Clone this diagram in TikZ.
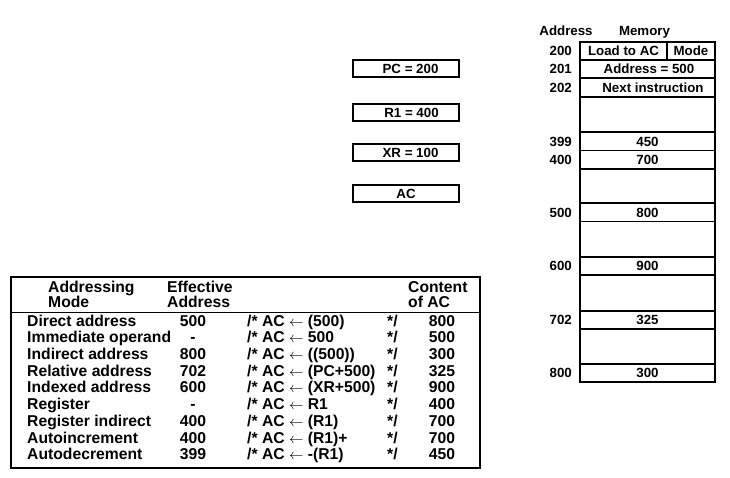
\documentclass[tikz,border=0pt]{standalone}
\usepackage{fontspec}
\setmainfont{Liberation Sans}
\begin{document}
\begin{tikzpicture}[x=1pt,y=-1pt,
  tbl/.style={font=\fontsize{15.7}{16}\selectfont\bfseries, inner sep=0pt, text height=11.3pt, text depth=0pt},
  mem/.style={font=\fontsize{13.3}{14}\selectfont\bfseries, inner sep=0pt, text height=9.6pt, text depth=0pt},
  reg/.style={mem, draw, line width=1.7pt, minimum width=106pt, minimum height=17pt},
  cell/.style={mem, draw, line width=1.8pt, minimum width=135pt},
  memframe/.style={draw, line width=2.4pt, inner sep=0pt},
  tabframe/.style={draw, line width=2pt, inner sep=0pt}]
\useasboundingbox (0,0) rectangle (730,478);

% registers
\node[reg] (pc) at (406,68.5) {\hspace{9pt}PC = 200};
\node[reg] (r1) at (406,112.5) {\hspace{11pt}R1 = 400};
\node[reg] (xr) at (406,152.5) {\hspace{9pt}XR = 100};
\node[reg] (ac) at (406,193.5) {AC};

% memory
\node[mem] (haddr) at (566,31) {Address};
\node[mem] (hmem) at (644.5,31) {Memory};
\node[memframe, minimum width=135pt, minimum height=340pt] (membox) at (647.5,212) {};
\node[mem, draw, line width=1.8pt, minimum width=87pt, minimum height=18pt] (m200a) at (623.5,51) {Load to AC};
\node[mem, draw, line width=1.8pt, minimum width=48pt, minimum height=18pt] (m200b) at (691,51) {Mode};
\node[cell, minimum height=18pt] (m201) at (647.5,69) {\hspace{3pt}Address = 500};
\node[cell, minimum height=19pt] (m202) at (647.5,87.5) {\hspace{11pt}Next instruction};
\node[cell, minimum height=18.5pt] (m399) at (647.5,141.25) {450\hspace{9pt}};
\node[cell, minimum height=18.5pt] (m400) at (647.5,159.75) {700\hspace{9pt}};
\node[cell, minimum height=18.5pt] (m500) at (647.5,212.25) {800\hspace{9pt}};
\node[cell, minimum height=18pt] (m600) at (647.5,266) {900\hspace{9pt}};
\node[cell, minimum height=18pt] (m702) at (647.5,320) {325\hspace{9pt}};
\node[cell, minimum height=18pt] (m800) at (647.5,373) {300\hspace{9pt}};
\foreach \a/\y in {200/51,201/69,202/87.5,399/141.25,400/159.75,500/212.25,600/266,702/320,800/373}
  \node[mem, anchor=east] (a\a) at (572,\y) {\a};

% table
\node[tabframe, minimum width=469pt, minimum height=191pt] (tab) at (245.5,372.5) {};
\coordinate (s1) at (11,312.5);
\coordinate (s2) at (480,312.5);
\draw[line width=1pt] (s1) -- (s2);
\node[tbl, anchor=west] (h1) at (48,287) {Addressing};
\node[tbl, anchor=west] (h2) at (48,302) {Mode};
\node[tbl, anchor=west] (h3) at (167,287) {Effective};
\node[tbl, anchor=west] (h4) at (167,302) {Address};
\node[tbl, anchor=west] (h5) at (408,287) {Content};
\node[tbl, anchor=west] (h6) at (408,302) {of AC};
\foreach \i/\m/\e/\x/\c in {
  0/Direct address/500/{(500)}/800,
  1/Immediate operand/-/{500}/500,
  2/Indirect address/800/{((500))}/300,
  3/Relative address/702/{(PC+500)}/325,
  4/Indexed address/600/{(XR+500)}/900,
  5/Register/-/{R1}/400,
  6/Register indirect/400/{(R1)}/700,
  7/Autoincrement/400/{(R1)+}/700,
  8/Autodecrement/399/{-(R1)}/450}{
  \pgfmathsetmacro\yy{320.5+16.7*\i}
  \node[tbl, anchor=west] (mode\i) at (27,\yy) {\m};
  \node[tbl] (ea\i) at (193,\yy) {\e};
  \node[tbl, anchor=west] (cm\i) at (247,\yy) {/* AC $\leftarrow$ \x};
  \node[tbl, anchor=west] (ce\i) at (387,\yy) {*/};
  \node[tbl] (ct\i) at (442,\yy) {\c};
}
\end{tikzpicture}
\end{document}
